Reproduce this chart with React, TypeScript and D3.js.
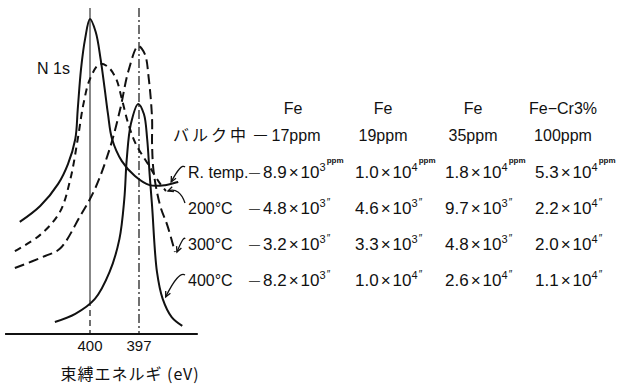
import * as d3 from 'd3';

// N 1s spectra, [binding energy eV, intensity (arb.)]
const rtempCurve: [number, number][] = [
  [404.3, 34.5], [403.05, 39.4], [401.95, 46.2], [401.35, 52.3], [400.9, 60.0],
  [400.75, 69.2], [400.55, 81.5], [400.3, 90.8], [400.0, 96.9], [399.65, 92.9],
  [399.35, 84.6], [399.1, 75.4], [398.9, 67.7], [398.65, 60.0], [398.05, 53.2],
  [397.25, 48.6], [396.35, 45.8], [395.4, 45.8], [394.6, 46.8],
];
const c200Curve: [number, number][] = [
  [404.6, 25.5], [403.05, 30.5], [401.85, 37.5], [401.2, 47.7], [400.75, 60.0],
  [400.4, 70.8], [400.0, 78.5], [399.4, 83.1], [398.9, 82.2], [398.4, 78.5],
  [398.05, 72.3], [397.65, 64.6], [397.2, 58.5], [396.45, 52.3], [395.7, 46.2],
  [395.35, 44.0],
];
const c300Curve: [number, number][] = [
  [404.6, 20.3], [402.75, 24.0], [401.85, 26.2], [400.6, 36.3], [399.7, 44.6],
  [398.8, 56.9], [398.15, 69.2], [397.65, 80.9], [397.05, 88.6], [396.65, 86.2],
  [396.4, 78.5], [396.2, 66.2], [396.2, 58.5], [396.1, 49.8], [395.7, 39.4],
  [395.25, 33.2], [394.8, 25.2],
];
const c400Curve: [number, number][] = [
  [402.15, 3.7], [400.9, 6.2], [399.7, 10.8], [398.8, 19.1], [398.2, 29.2],
  [397.9, 41.5], [397.75, 53.8], [397.5, 64.6], [397.05, 70.8], [396.7, 67.7],
  [396.5, 60.0], [396.35, 49.2], [396.2, 39.4], [395.9, 19.1], [395.55, 10.8],
  [395.0, 5.2], [394.35, 2.5],
];

const energyTicks = [400, 397];
const energyRange = [405.2, 393.4];

const hosts = ['Fe', 'Fe', 'Fe', 'Fe\u2212Cr3%'];
const bulkPpm = ['17ppm', '19ppm', '35ppm', '100ppm'];
const rowLabels = ['R. temp.', '200\u00b0C', '300\u00b0C', '400\u00b0C'];
const mantissas = [
  ['8.9', '1.0', '1.8', '5.3'],
  ['4.8', '4.6', '9.7', '2.2'],
  ['3.2', '3.3', '4.8', '2.0'],
  ['8.2', '1.0', '2.6', '1.1'],
];
const exponents = [
  [3, 4, 4, 4],
  [3, 3, 3, 4],
  [3, 3, 3, 4],
  [3, 4, 4, 4],
];

const curves = [rtempCurve, c200Curve, c300Curve, c400Curve];
const curveDash = ['', '7 5', '10 5', ''];
// which point of each curve the label arrow points at, and tip nudge
const arrowTarget = [18, 15, 16, 14];
const arrowNudge = [-7, 2, 2, 3];

const W = 618;
const H = 387;
const FONT = '"Liberation Sans", Arial, sans-serif';
const JFONT = '"Noto Sans CJK JP", "Liberation Sans", sans-serif';
const INK = '#111';

export default function App() {
  const x = d3.scaleLinear().domain([400, 397]).range([90, 139]);
  const y = d3.scaleLinear().domain([0, 100]).range([334, 9]);

  const line = d3
    .line<[number, number]>()
    .x(d => x(d[0]))
    .y(d => y(d[1]))
    .curve(d3.curveCatmullRom.alpha(0.5));

  const col = d3.scalePoint<number>().domain([0, 1, 2, 3]).range([293, 563]);
  const row = d3.scalePoint<string>().domain(rowLabels).range([172, 280]);

  const labelX = 186;

  return (
    <svg
      width={W}
      height={H}
      style={{ position: 'absolute', left: 0, top: 0, background: '#fff' }}
    >
      {/* reference lines */}
      <line x1={x(400)} x2={x(400)} y1={8} y2={300} stroke={INK} strokeWidth={1} />
      <line x1={x(400)} x2={x(400)} y1={300} y2={y(0)} stroke={INK} strokeWidth={1.2} strokeDasharray="6 4" />
      <line x1={x(397)} x2={x(397)} y1={8} y2={y(0)} stroke={INK} strokeWidth={1.2} strokeDasharray="9 3 2 3" />

      {/* spectra */}
      {curves.map((c, i) => (
        <path
          key={i}
          d={line(c) || ''}
          fill="none"
          stroke={INK}
          strokeWidth={2}
          strokeDasharray={curveDash[i] || undefined}
        />
      ))}

      {/* baseline */}
      <line x1={x(energyRange[0])} x2={x(energyRange[1])} y1={y(0)} y2={y(0)} stroke={INK} strokeWidth={2} />
      {energyTicks.map(t => (
        <text key={t} x={x(t)} y={351} textAnchor="middle" fontFamily={FONT} fontSize={15} fill={INK}>
          {t}
        </text>
      ))}
      <text x={130} y={380} textAnchor="middle" fontFamily={JFONT} fontSize={16} letterSpacing={1} fill={INK}>
        束縛エネルギ (eV)
      </text>
      <text x={37} y={74} fontFamily={FONT} fontSize={16} fill={INK}>
        N  1s
      </text>

      {/* table header */}
      {hosts.map((h, j) => (
        <text key={'h' + j} x={col(j)} y={114} textAnchor="middle" fontFamily={FONT} fontSize={16} fill={INK}>
          {h}
        </text>
      ))}
      <text x={173} y={141} fontFamily={JFONT} fontSize={16} letterSpacing={3} fill={INK}>
        バルク中
      </text>
      <text x={254} y={139} fontFamily={FONT} fontSize={13} fill={INK}>—</text>
      {bulkPpm.map((b, j) => (
        <text key={'b' + j} x={(col(j) || 0) + (j === 0 ? 3 : 0)} y={141} textAnchor="middle" fontFamily={FONT} fontSize={16} fill={INK}>
          {b}
        </text>
      ))}

      {/* rows */}
      {rowLabels.map((lab, i) => {
        const ry = row(lab) || 0;
        const c = curves[i];
        const tp = c[arrowTarget[i]];
        const tx = x(tp[0]) + arrowNudge[i];
        const ty = y(tp[1]) + (i === 3 ? -2 : 0);
        const sx = labelX - 1;
        const sy = ry - 5;
        const mx = (sx + tx) / 2 + 3;
        const my = Math.min(sy, ty) - 4;
        const ang = Math.atan2(ty - my, tx - mx);
        const ah = 6;
        const head = `M${tx - ah * Math.cos(ang - 0.45)},${ty - ah * Math.sin(ang - 0.45)}L${tx},${ty}L${tx - ah * Math.cos(ang + 0.45)},${ty - ah * Math.sin(ang + 0.45)}`;
        return (
          <g key={lab}>
            <path d={`M${sx},${sy}Q${mx},${my} ${tx},${ty}`} fill="none" stroke={INK} strokeWidth={1.3} />
            <path d={head} fill="none" stroke={INK} strokeWidth={1.3} />
            <text x={labelX + 2} y={ry + 6} fontFamily={FONT} fontSize={16} fill={INK}>
              {lab}
            </text>
            <text x={249} y={ry + 4} fontFamily={FONT} fontSize={11} fill={INK}>—</text>
            {mantissas[i].map((m, j) => {
              const vx = (col(j) || 0) - (j === 0 ? 30 : 28);
              return (
                <text key={j} x={vx} y={ry + 6} fontFamily={FONT} fontSize={17} fill={INK}>
                  {m}
                  <tspan dx={2}>×</tspan>
                  <tspan dx={2}>10</tspan>
                  <tspan dy={-7} fontSize={11}>{exponents[i][j]}</tspan>
                  {i === 0 ? (
                    <tspan dx={1} dy={-8} fontSize={8} fontWeight="bold">ppm</tspan>
                  ) : (
                    <tspan dx={1} dy={-1} fontSize={10}>″</tspan>
                  )}
                </text>
              );
            })}
          </g>
        );
      })}
    </svg>
  );
}
